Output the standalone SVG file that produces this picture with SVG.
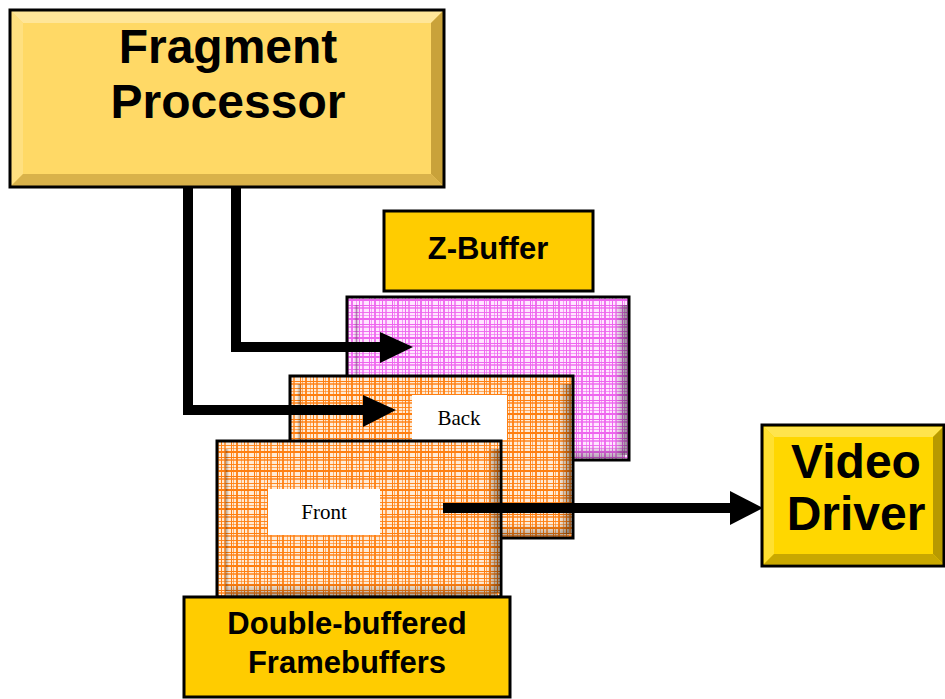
<svg xmlns="http://www.w3.org/2000/svg" width="945" height="699" viewBox="0 0 945 699">
<defs>
<style>
.bold{font-family:"Liberation Sans",Arial,sans-serif;font-weight:bold;fill:#000;text-anchor:middle}
.serif{font-family:"Liberation Serif","Times New Roman",serif;fill:#000;text-anchor:middle;font-size:21px}
.edge{fill:none;stroke:#000;stroke-width:3}
.conn{fill:none;stroke:#000;stroke-width:10;stroke-linejoin:miter}
.lab{fill:#fff}
</style>
<pattern id="plaidO" width="23" height="19" patternUnits="userSpaceOnUse">
<rect width="23" height="19" fill="#FFEBD6"/>
<g stroke="#FF7F10" stroke-width="1">
<line x1="1.5" y1="0" x2="1.5" y2="19" opacity="1"/>
<line x1="3.5" y1="0" x2="3.5" y2="19" opacity="0.6"/>
<line x1="7" y1="0" x2="7" y2="19" opacity="0.9" stroke-width="2"/>
<line x1="11.5" y1="0" x2="11.5" y2="19" opacity="0.6"/>
<line x1="14.5" y1="0" x2="14.5" y2="19" opacity="1"/>
<line x1="18" y1="0" x2="18" y2="19" opacity="0.7" stroke-width="2"/>
<line x1="0" y1="1.5" x2="23" y2="1.5" opacity="1"/>
<line x1="0" y1="4" x2="23" y2="4" opacity="0.7" stroke-width="2"/>
<line x1="0" y1="8.5" x2="23" y2="8.5" opacity="0.9"/>
<line x1="0" y1="11.5" x2="23" y2="11.5" opacity="0.6"/>
<line x1="0" y1="15" x2="23" y2="15" opacity="1" stroke-width="2"/>
</g>
</pattern>
<pattern id="plaidP" width="23" height="19" patternUnits="userSpaceOnUse">
<rect width="23" height="19" fill="#FFE6FF"/>
<g stroke="#EE66EE" stroke-width="1">
<line x1="1.5" y1="0" x2="1.5" y2="19" opacity="1"/>
<line x1="3.5" y1="0" x2="3.5" y2="19" opacity="0.6"/>
<line x1="7" y1="0" x2="7" y2="19" opacity="0.9" stroke-width="2"/>
<line x1="11.5" y1="0" x2="11.5" y2="19" opacity="0.6"/>
<line x1="14.5" y1="0" x2="14.5" y2="19" opacity="1"/>
<line x1="18" y1="0" x2="18" y2="19" opacity="0.7" stroke-width="2"/>
<line x1="0" y1="1.5" x2="23" y2="1.5" opacity="1"/>
<line x1="0" y1="4" x2="23" y2="4" opacity="0.7" stroke-width="2"/>
<line x1="0" y1="8.5" x2="23" y2="8.5" opacity="0.9"/>
<line x1="0" y1="11.5" x2="23" y2="11.5" opacity="0.6"/>
<line x1="0" y1="15" x2="23" y2="15" opacity="1" stroke-width="2"/>
</g>
</pattern>
<linearGradient id="bevR" x1="0" y1="0" x2="1" y2="0">
<stop offset="0" stop-color="#000" stop-opacity="0"/>
<stop offset="1" stop-color="#000" stop-opacity="0.4"/>
</linearGradient>
<linearGradient id="bevB" x1="0" y1="0" x2="0" y2="1">
<stop offset="0" stop-color="#000" stop-opacity="0"/>
<stop offset="1" stop-color="#000" stop-opacity="0.3"/>
</linearGradient>
<linearGradient id="bevL" x1="0" y1="0" x2="1" y2="0">
<stop offset="0" stop-color="#000" stop-opacity="0"/>
<stop offset="0.5" stop-color="#000" stop-opacity="0.25"/>
<stop offset="1" stop-color="#000" stop-opacity="0"/>
</linearGradient>
</defs>
<rect width="945" height="699" fill="#fff"/>

<g id="fragment-processor">
<rect x="10" y="10" width="434" height="177" fill="#FFD966"/>
<polygon points="11,11 443,11 431,23 23,23" fill="#FFE699"/>
<polygon points="11,11 23,23 23,174 11,186" fill="#FFE080"/>
<polygon points="443,11 443,186 431,174 431,23" fill="#C9A23A"/>
<polygon points="11,186 443,186 431,174 23,174" fill="#D9B24A"/>
<rect x="10" y="10" width="434" height="177" class="edge"/>
<text x="228" y="63" class="bold" font-size="48">Fragment</text>
<text x="228" y="118" class="bold" font-size="48">Processor</text>
</g>

<g id="z-buffer-label">
<rect x="384" y="211" width="209" height="80" style="fill:#FFCC00" class="edge"/>
<text x="488" y="259" class="bold" font-size="31">Z-Buffer</text>
</g>

<g id="z-buffer">
<rect x="347" y="297" width="282" height="163" fill="url(#plaidP)"/>
<rect x="354" y="305" width="5" height="148" fill="url(#bevL)"/>
<rect x="615" y="305" width="12" height="150" fill="url(#bevR)"/>
<rect x="355" y="446" width="270" height="12" fill="url(#bevB)"/>
<rect x="347" y="297" width="282" height="163" class="edge"/>
</g>

<g id="back-buffer">
<rect x="290" y="376" width="283" height="162" fill="url(#plaidO)"/>
<rect x="297" y="384" width="5" height="148" fill="url(#bevL)"/>
<rect x="559" y="384" width="12" height="150" fill="url(#bevR)"/>
<rect x="298" y="524" width="271" height="12" fill="url(#bevB)"/>
<rect x="290" y="376" width="283" height="162" class="edge"/>
<rect x="412" y="395" width="95" height="45" class="lab"/>
<text x="459" y="425" class="serif">Back</text>
</g>

<g id="front-buffer">
<rect x="217" y="441" width="284" height="156" fill="url(#plaidO)"/>
<rect x="224" y="449" width="5" height="142" fill="url(#bevL)"/>
<rect x="487" y="449" width="12" height="144" fill="url(#bevR)"/>
<rect x="225" y="583" width="272" height="12" fill="url(#bevB)"/>
<rect x="217" y="441" width="284" height="156" class="edge"/>
<rect x="268" y="489" width="112" height="46" class="lab"/>
<text x="324" y="519" class="serif">Front</text>
</g>

<g id="framebuffers-label">
<rect x="184" y="597" width="326" height="100" style="fill:#FFCC00" class="edge"/>
<text x="347" y="634" class="bold" font-size="31">Double-buffered</text>
<text x="347" y="673" class="bold" font-size="31">Framebuffers</text>
</g>

<g id="video-driver">
<rect x="762" y="425" width="183" height="141" fill="#FFD700"/>
<polygon points="764,427 943,427 933,437 774,437" fill="#FFE44D"/>
<polygon points="764,427 774,437 774,554 764,564" fill="#FFE030"/>
<polygon points="943,427 943,564 933,554 933,437" fill="#B89A00"/>
<polygon points="764,564 943,564 933,554 774,554" fill="#C9A800"/>
<rect x="762" y="425" width="182" height="141" class="edge"/>
<text x="856" y="478" class="bold" font-size="48">Video</text>
<text x="856" y="530" class="bold" font-size="48">Driver</text>
</g>

<g id="connectors">
<polyline points="236,187 236,347 382,347" class="conn"/>
<polygon points="380,332 413,347 380,363" fill="#000"/>
<polyline points="188,187 188,410 365,410" class="conn"/>
<polygon points="363,395 396,410 363,427" fill="#000"/>
<line x1="443" y1="508" x2="732" y2="508" class="conn"/>
<polygon points="730,491 763,508 730,525" fill="#000"/>
</g>
</svg>
